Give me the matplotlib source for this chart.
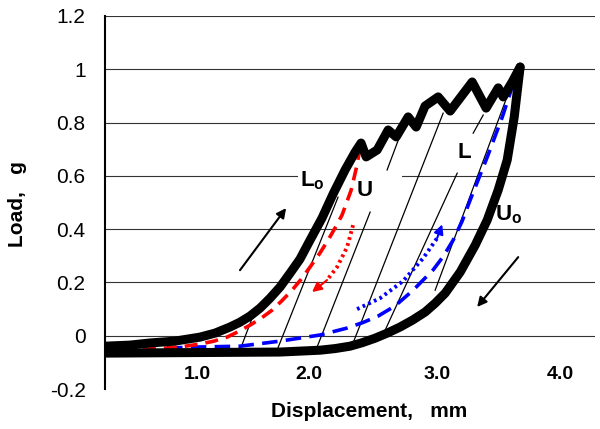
import numpy as np
import matplotlib
matplotlib.use("Agg")
from matplotlib import pyplot as plt
from matplotlib.patches import Rectangle

plt.rcParams['font.family'] = ['Liberation Sans', 'DejaVu Sans']
plt.rcParams['mathtext.fontset'] = 'custom'
plt.rcParams['mathtext.bf'] = 'Liberation Sans:bold'
plt.rcParams['mathtext.rm'] = 'Liberation Sans'

# outer loop, loading branch (Lo)
lo_x = [0.240, 0.446, 0.612, 0.818, 1.025, 1.149, 1.273, 1.355, 1.438, 1.521, 1.603, 1.686,
        1.769, 1.851, 1.934, 2.033, 2.124, 2.223, 2.306, 2.355, 2.397, 2.488, 2.579, 2.645,
        2.744, 2.810, 2.884, 2.992, 3.091, 3.273, 3.388, 3.488, 3.529, 3.603, 3.669]
lo_y = [-0.039, -0.035, -0.027, -0.020, -0.005, 0.010, 0.033, 0.051, 0.074, 0.104, 0.141, 0.183,
        0.235, 0.288, 0.359, 0.442, 0.532, 0.622, 0.689, 0.723, 0.671, 0.697, 0.772, 0.746,
        0.821, 0.783, 0.862, 0.896, 0.843, 0.952, 0.854, 0.930, 0.896, 0.952, 1.008]

# outer loop, unloading branch (Uo)
uo_x = [3.669, 3.653, 3.620, 3.562, 3.488, 3.397, 3.298, 3.174, 3.050, 2.967, 2.884, 2.781,
        2.678, 2.571, 2.471, 2.364, 2.264, 2.140, 2.017, 1.686, 0.240]
uo_y = [1.008, 0.948, 0.820, 0.659, 0.547, 0.434, 0.340, 0.239, 0.160, 0.122, 0.089, 0.059,
        0.033, 0.010, -0.009, -0.026, -0.039, -0.048, -0.054, -0.061, -0.065]

# inner unloading (U), red dashed
u_x = [2.347, 2.322, 2.273, 2.198, 2.141, 2.083, 2.012, 1.934, 1.860, 1.785, 1.700, 1.620,
       1.530, 1.438, 1.343, 1.248, 1.140, 1.025, 0.890, 0.752, 0.421]
u_y = [0.708, 0.641, 0.546, 0.453, 0.405, 0.359, 0.308, 0.258, 0.212, 0.171, 0.131, 0.096,
       0.066, 0.040, 0.016, -0.005, -0.020, -0.031, -0.040, -0.046, -0.054]

# inner loading (L), blue dashed
l_x = [0.752, 1.025, 1.355, 1.686, 2.017, 2.240, 2.372, 2.496, 2.636, 2.785, 2.950, 3.033,
       3.116, 3.190, 3.256, 3.397, 3.521, 3.603]
l_y = [-0.046, -0.042, -0.039, -0.020, 0.003, 0.029, 0.050, 0.074, 0.112, 0.171, 0.247, 0.297,
       0.359, 0.430, 0.509, 0.670, 0.820, 0.933]

# dotted direction arrows
rdot_x = [2.289, 2.240, 2.157, 2.074, 1.950]
rdot_y = [0.415, 0.333, 0.258, 0.209, 0.164]
bdot_x = [2.322, 2.512, 2.702, 2.868, 2.983, 3.025]
bdot_y = [0.100, 0.141, 0.205, 0.291, 0.366, 0.418]

# thin black lines
thin_x0 = [1.355, 1.661, 1.992, 2.289, 2.554, 2.570, 3.281, 2.967]
thin_y0 = [-0.054, -0.054, -0.042, -0.027, 0.021, 0.622, 0.760, 0.171]
thin_x1 = [1.455, 2.165, 2.430, 3.033, 3.149, 2.678, 3.364, 3.587]
thin_y1 = [0.066, 0.520, 0.464, 0.835, 0.610, 0.753, 0.828, 0.929]

yticks = [-0.2, 0, 0.2, 0.4, 0.6, 0.8, 1, 1.2]
ytick_labels = ["-0.2", "0", "0.2", "0.4", "0.6", "0.8", "1", "1.2"]
xtick_pos = [1.0, 1.92, 2.98, 4.0]
xtick_labels = ["1.0", "2.0", "3.0", "4.0"]

fig = plt.figure(figsize=(6, 4.29), dpi=100)
ax = fig.add_axes([0.175, 0.093, 0.817, 0.870])

ax.set_xlim(0.24, 4.289)
ax.set_ylim(-0.2, 1.2)
ax.set_yticks(yticks)
ax.set_yticklabels(ytick_labels, fontsize=15)
ax.set_xticks([])
ax.tick_params(axis='y', length=0, pad=14)
ax.grid(axis='y', color='#333333', lw=0.8)
ax.set_axisbelow(True)
ax.yaxis.get_gridlines()[0].set_visible(False)
for s in ['top', 'right', 'bottom']:
    ax.spines[s].set_visible(False)
ax.spines['left'].set_linewidth(1.5)

# gap in the 0.6 grid line
ax.add_patch(Rectangle((1.835, 0.585), 0.86, 0.03, facecolor='white', edgecolor='none', zorder=1))

for i in range(len(thin_x0)):
    ax.plot([thin_x0[i], thin_x1[i]], [thin_y0[i], thin_y1[i]], color='black', lw=0.9, zorder=2)

ax.plot(l_x, l_y, color='#0000ff', lw=2.6, dashes=(4.3, 2.3), zorder=3)
ax.plot(u_x, u_y, color='#ff0000', lw=2.6, dashes=(3.6, 2.2), zorder=3)
ax.plot(rdot_x[:-1], rdot_y[:-1], color='#ff0000', lw=2.8, dashes=(0.7, 0.9), zorder=3)
ax.plot(bdot_x[:-1], bdot_y[:-1], color='#0000ff', lw=2.8, dashes=(0.7, 0.9), zorder=3)
ax.annotate('', xy=(rdot_x[-1], rdot_y[-1]), xytext=(rdot_x[-2], rdot_y[-2]),
            arrowprops=dict(arrowstyle='-|>', color='#ff0000', lw=1.5, mutation_scale=14,
                            shrinkA=0, shrinkB=0), zorder=3)
ax.annotate('', xy=(bdot_x[-1], bdot_y[-1]), xytext=(bdot_x[-2], bdot_y[-2]),
            arrowprops=dict(arrowstyle='-|>', color='#0000ff', lw=1.5, mutation_scale=14,
                            shrinkA=0, shrinkB=0), zorder=3)

ax.plot(lo_x, lo_y, color='black', lw=6.5, solid_joinstyle='round', solid_capstyle='round', zorder=4)
ax.plot(uo_x, uo_y, color='black', lw=6.5, solid_joinstyle='round', solid_capstyle='round', zorder=4)

# direction arrows
ax.annotate('', xy=(1.736, 0.479), xytext=(1.355, 0.246),
            arrowprops=dict(arrowstyle='-|>', color='black', lw=1.5, mutation_scale=14, shrinkA=0, shrinkB=0))
ax.annotate('', xy=(3.314, 0.108), xytext=(3.653, 0.295),
            arrowprops=dict(arrowstyle='-|>', color='black', lw=1.5, mutation_scale=14, shrinkA=0, shrinkB=0))

ax.text(1.851, 0.580, r'$\mathbf{L}_\mathbf{o}$', fontsize=16, ha='left', va='center', zorder=5)
ax.text(2.388, 0.546, 'U', fontsize=16, fontweight='bold', ha='center', va='center', zorder=5)
ax.text(3.207, 0.689, 'L', fontsize=16, fontweight='bold', ha='center', va='center', zorder=5)
ax.text(3.463, 0.456, r'$\mathbf{U}_\mathbf{o}$', fontsize=16, ha='left', va='center', zorder=5)

for p, lab in zip(xtick_pos, xtick_labels):
    ax.text(p, -0.144, lab, fontsize=14, fontweight='bold', ha='center', va='center')

ax.set_xlabel("Displacement,   mm", fontsize=15, fontweight='bold')
ax.xaxis.set_label_coords(0.539, -0.035)
ax.set_ylabel("Load,   g", fontsize=15, fontweight='bold')
ax.yaxis.set_label_coords(-0.16, 0.496)

plt.savefig("out.png", dpi=100)
